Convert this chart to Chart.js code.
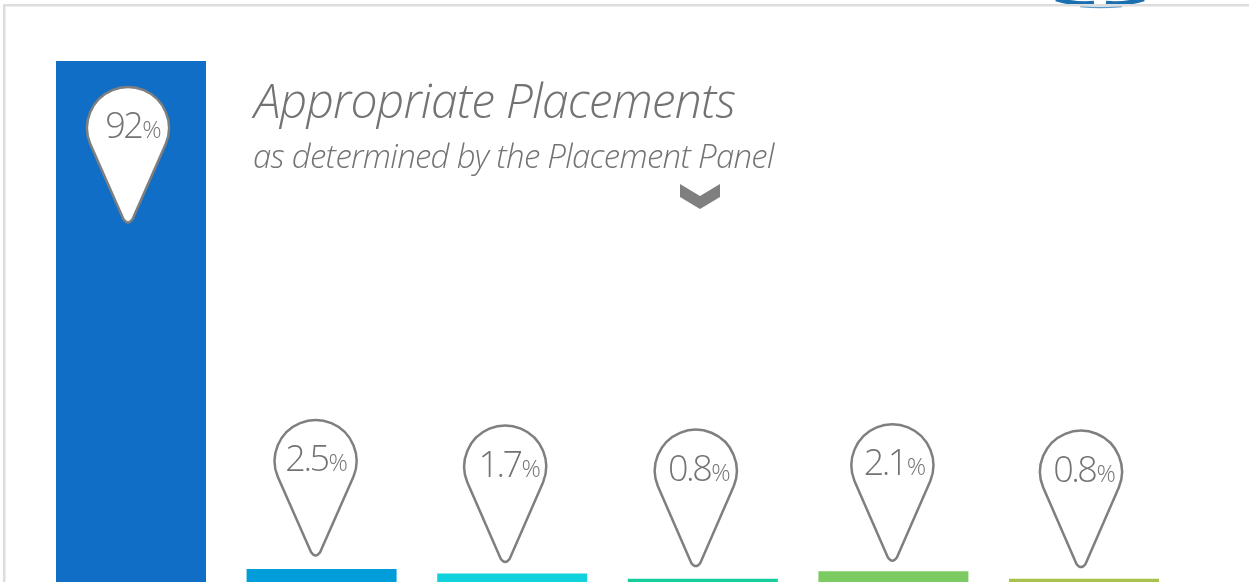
<!DOCTYPE html>
<html>
<head>
<meta charset="utf-8">
<style>
html,body{margin:0;padding:0;background:#fff;overflow:hidden;width:1249px;height:582px}
#wrap{position:absolute;left:0;top:0;width:1249px;height:600px}
</style>
<script src="https://cdn.jsdelivr.net/npm/chart.js@4"></script>
</head>
<body>
<div id="wrap"><canvas id="c" width="1249" height="600"></canvas></div>
<script>
const categories = ["A", "B", "C", "D", "E", "F"];
const values = [92, 2.5, 1.7, 0.8, 2.1, 0.8];
const valueLabels = ["92", "2.5", "1.7", "0.8", "2.1", "0.8"];
const barColors = ["#106EC6", "#009DDA", "#10D2DC", "#14CF9C", "#7BCB62", "#A9C24F"];
const titleText = "Appropriate Placements";
const subtitleText = "as determined by the Placement Panel";

const GREY = "#7F7F7F";
const TEXTGREY = "#737373";
const FONT = "'Open Sans'";

// pin geometry relative to its bar: tip offset from bar centre / bar top
const pinDx = [-3, -6, -7, -7, -1, -3];
const pinTipDy = [162, -13, -11, -12, -10, -11];
const pinR = [41, 41, 41, 41, 41, 41];
const pinH = [136, 136, 137, 137, 137, 137];
const labelDx = [5, 0.5, 4, 3, 2, 3];

function pinPath(ctx, x, tip, r, h) {
  const cy = tip - h + r;
  const tr = 5;
  const a = Math.asin(r / (h - r));
  ctx.beginPath();
  ctx.arc(x, cy, r, a - 0.05, Math.PI - a + 0.05, true);
  ctx.lineTo(x - tr * 0.9, tip - tr * 0.75);
  ctx.quadraticCurveTo(x, tip + 2.5, x + tr * 0.9, tip - tr * 0.75);
  ctx.closePath();
}

const overlay = {
  id: "overlay",
  afterDatasetsDraw(chart) {
    const ctx = chart.ctx;
    ctx.save();
    // logo fragment
    ctx.save();
    ctx.beginPath(); ctx.rect(1040, 0, 120, 9); ctx.clip();
    ctx.strokeStyle = "#1A6FB0"; ctx.lineWidth = 4.5;
    ctx.beginPath(); ctx.moveTo(1056, -1); ctx.quadraticCurveTo(1076, 5, 1094, 3); ctx.stroke();
    ctx.beginPath(); ctx.moveTo(1144, -1); ctx.quadraticCurveTo(1124, 5, 1106, 3); ctx.stroke();
    ctx.strokeStyle = "#5E9CCB"; ctx.lineWidth = 1.5;
    ctx.beginPath(); ctx.moveTo(1080, 6.5); ctx.quadraticCurveTo(1100, 8.5, 1122, 6.5); ctx.stroke();
    ctx.restore();
    // frame
    ctx.fillStyle = "#DDDDDD";
    ctx.fillRect(3, 4, 1246, 2.5);
    ctx.fillRect(3, 4, 2.5, 600);
    // titles
    ctx.fillStyle = TEXTGREY;
    ctx.textAlign = "left"; ctx.textBaseline = "alphabetic";
    ctx.letterSpacing = "-0.8px";
    ctx.font = "italic 300 48px " + FONT;
    ctx.fillText(titleText, 254, 118);
    ctx.letterSpacing = "-0.7px";
    ctx.font = "italic 300 33px " + FONT;
    ctx.fillText(subtitleText, 253, 168);
    ctx.letterSpacing = "0px";
    // chevron
    ctx.fillStyle = GREY;
    ctx.beginPath();
    ctx.moveTo(680, 184); ctx.lineTo(700, 196); ctx.lineTo(720, 184);
    ctx.lineTo(720, 197); ctx.lineTo(700, 209); ctx.lineTo(680, 197);
    ctx.closePath(); ctx.fill();
    // pins
    const meta = chart.getDatasetMeta(0);
    meta.data.forEach((bar, i) => {
      const x = bar.x + pinDx[i];
      const tip = bar.y + pinTipDy[i];
      const r = pinR[i], h = pinH[i];
      pinPath(ctx, x, tip, r, h);
      ctx.fillStyle = "#FFFFFF";
      ctx.fill();
      ctx.strokeStyle = GREY;
      ctx.lineWidth = 2.5;
      ctx.lineJoin = "round";
      ctx.stroke();
      const cy = tip - h + r;
      ctx.fillStyle = TEXTGREY;
      ctx.textBaseline = "alphabetic";
      ctx.letterSpacing = "-2.5px";
      ctx.font = "300 36px " + FONT;
      const big = valueLabels[i];
      const w1 = ctx.measureText(big).width;
      ctx.letterSpacing = "0px";
      ctx.font = "300 24px " + FONT;
      const w2 = ctx.measureText("%").width;
      const sx = x + labelDx[i] - (w1 + w2) / 2;
      ctx.letterSpacing = "-2.5px";
      ctx.font = "300 36px " + FONT;
      ctx.fillText(big, sx, cy + 10);
      ctx.letterSpacing = "0px";
      ctx.font = "300 24px " + FONT;
      ctx.fillText("%", sx + w1 + 1, cy + 10);
    });
    ctx.restore();
  }
};

new Chart(document.getElementById("c"), {
  type: "bar",
  data: {
    labels: categories,
    datasets: [{ data: values, backgroundColor: barColors, borderWidth: 0, categoryPercentage: 1, barPercentage: 0.787 }]
  },
  options: {
    responsive: false,
    animation: false,
    layout: { padding: { left: 35.7, right: 69.7, top: 15.6, bottom: 16.8 } },
    scales: {
      x: { display: false },
      y: { display: false, min: 0, max: 100 }
    },
    plugins: { legend: { display: false }, tooltip: { enabled: false }, title: { display: false } }
  },
  plugins: [overlay]
});
</script>
</body>
</html>
